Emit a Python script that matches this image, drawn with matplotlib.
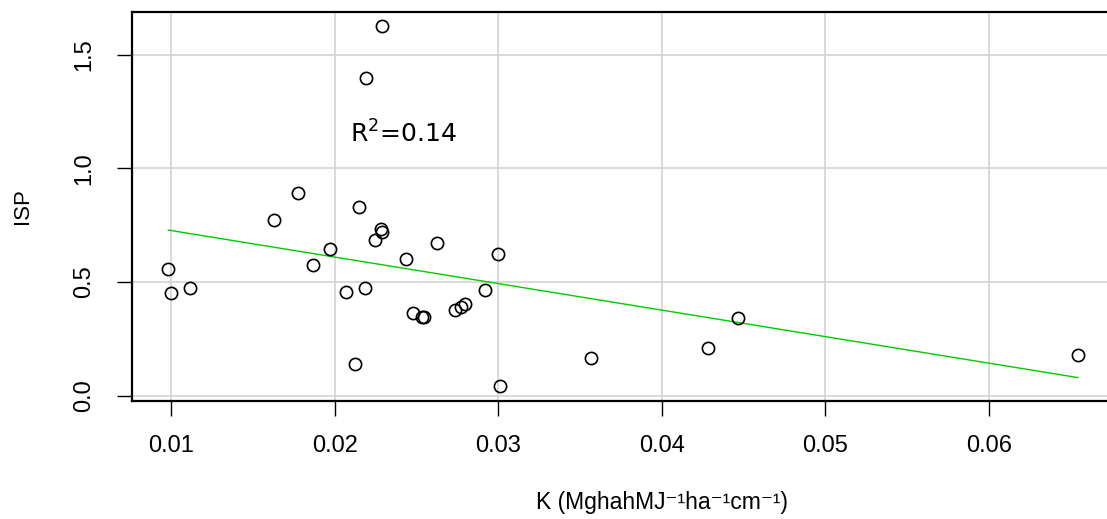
import numpy as np
import matplotlib
matplotlib.use("Agg")
import matplotlib.pyplot as plt

# Data
k_values = [0.02289, 0.02193, 0.01776, 0.02150, 0.01627, 0.02281, 0.02291, 0.02248,
            0.01971, 0.02623, 0.02998, 0.02438,
            0.00984, 0.01000, 0.01114, 0.01867, 0.02067, 0.02183, 0.02478, 0.02537,
            0.02545, 0.02735, 0.02774, 0.02798, 0.02922, 0.02122, 0.03008, 0.03566,
            0.04281, 0.04463, 0.06542]
isp_values = [1.624, 1.398, 0.891, 0.829, 0.771, 0.731, 0.718, 0.684,
              0.646, 0.671, 0.623, 0.599,
              0.555, 0.452, 0.472, 0.575, 0.454, 0.472, 0.363, 0.344,
              0.347, 0.376, 0.388, 0.403, 0.466, 0.140, 0.042, 0.166,
              0.210, 0.342, 0.177]
x_ticks = [0.01, 0.02, 0.03, 0.04, 0.05, 0.06]
x_tick_labels = ["0.01", "0.02", "0.03", "0.04", "0.05", "0.06"]
y_ticks = [0.0, 0.5, 1.0, 1.5]
y_tick_labels = ["0.0", "0.5", "1.0", "1.5"]
r2_label = r"R$^2$=0.14"
x_label = "K (MghahMJ\u207b\u00b9ha\u207b\u00b9cm\u207b\u00b9)"
y_label = "ISP"

x = np.array(k_values)
y = np.array(isp_values)

W, H = 1107, 519
fig = plt.figure(figsize=(W / 100, H / 100), dpi=100)
left_px, right_px, top_px, bottom_px = 131.7, 1192.0, 12.0, 400.5
ax = fig.add_axes([left_px / W, 1 - bottom_px / H,
                   (right_px - left_px) / W, (bottom_px - top_px) / H])

sans = ["Liberation Sans", "DejaVu Sans"]

ax.grid(True, color="#D3D3D3", linewidth=1.2, zorder=0)
ax.set_axisbelow(True)

ax.plot(x, y, linestyle="none", marker="o", markersize=8.8,
        markerfacecolor="none", markeredgecolor="black", markeredgewidth=1.2, zorder=3)

slope, intercept = np.polyfit(x, y, 1)
xs = np.array([x.min(), x.max()])
ax.plot(xs, intercept + slope * xs, color="#00CC00", linewidth=1.0, zorder=2)

ax.text(0.02093, 1.111, r2_label, fontsize=18, ha="left", va="baseline",
        family="DejaVu Sans")

# limits: y with 4% extension, x fixed to match the reference frame
ax.set_ylim(y.min() - 0.04 * (y.max() - y.min()), y.max() + 0.04 * (y.max() - y.min()))
ax.set_xlim(0.0076, 0.0724)

ax.set_xticks(x_ticks)
ax.set_xticklabels(x_tick_labels, fontsize=17, family=sans)
ax.set_yticks(y_ticks)
ax.set_yticklabels(y_tick_labels, fontsize=17, family=sans, rotation=90, va="center")

ax.tick_params(axis="both", direction="out", length=10.5, width=1.0, color="black")
ax.tick_params(axis="x", pad=14)
ax.tick_params(axis="y", pad=16)

for sp in ax.spines.values():
    sp.set_linewidth(1.6)
    sp.set_color("black")

ax.set_xlabel(x_label, fontsize=16.5, family=sans, labelpad=25)
ax.set_ylabel(y_label, fontsize=16, family=sans, labelpad=29)

fig.savefig("out.png", dpi=100)
